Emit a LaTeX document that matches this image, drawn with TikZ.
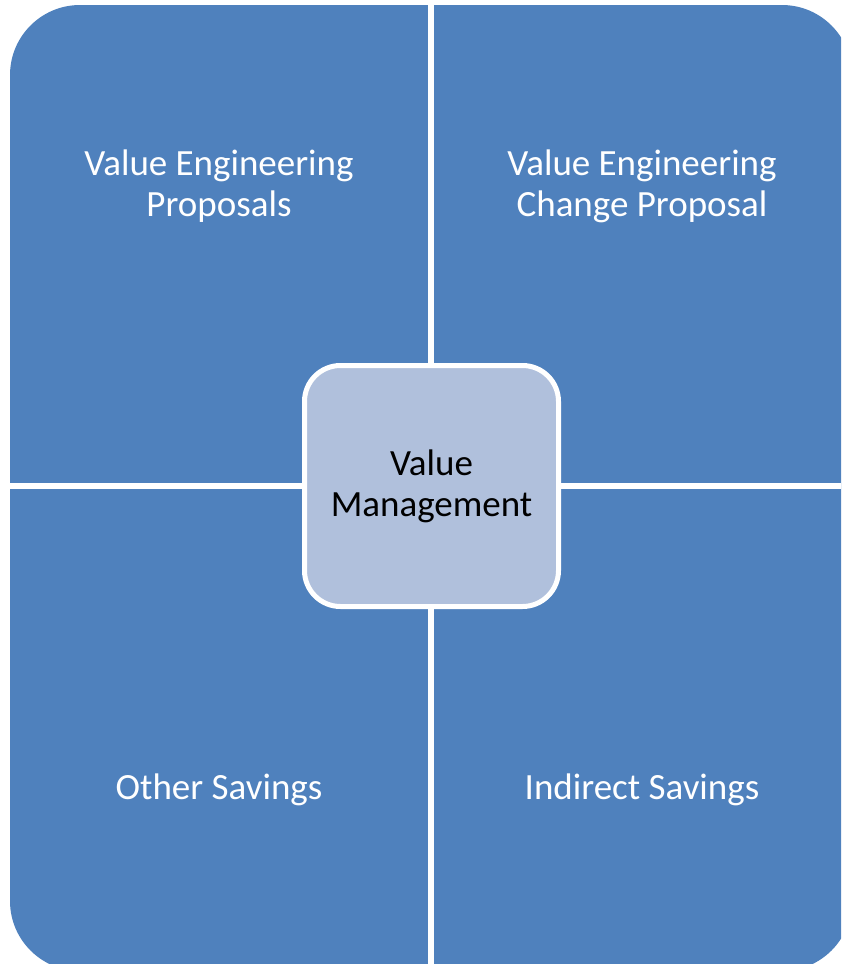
\documentclass[tikz,border=0pt]{standalone}
\usepackage{fontspec}
\setmainfont{Carlito}
\usetikzlibrary{positioning}
\definecolor{quadblue}{RGB}{79,129,189}
\definecolor{hubfill}{RGB}{176,192,220}
\tikzstyle{quad}=[fill=quadblue,rounded corners=70pt]
\tikzstyle{gap}=[draw=white,line width=6pt]
\tikzstyle{quadtext}=[text=white,align=center,font=\fontsize{37}{41}\selectfont]
\tikzstyle{hub}=[draw=white,line width=5pt,fill=hubfill,rounded corners=36pt,minimum width=254pt,minimum height=241pt,align=center,font=\fontsize{37}{41}\selectfont]

\begin{document}
\begin{tikzpicture}[x=1pt,y=-1pt]
    \useasboundingbox (0,0) rectangle (841,964);
    \clip (0,0) rectangle (841,964);
    % First we draw the blue matrix
    \path[quad] (10,5) rectangle (852,971);
    % Split it into four quadrants
    \path[gap] (431,0) -- (431,964);
    \path[gap] (0,486) -- (841,486);
    % Texts of the quadrants
    \foreach \pos/\name/\txt in {{(219,186)/vep/{Value Engineering\\Proposals}}, {(642,186)/vecp/{Value Engineering\\Change Proposal}}, {(219,790)/other/{Other Savings}}, {(642,790)/indirect/{Indirect Savings}}}
        \node[quadtext] (\name) at \pos {\txt};
    % Value management in the middle
    \node[hub] (vm) at (431.5,486) {Value\\Management};
\end{tikzpicture}
\end{document}
